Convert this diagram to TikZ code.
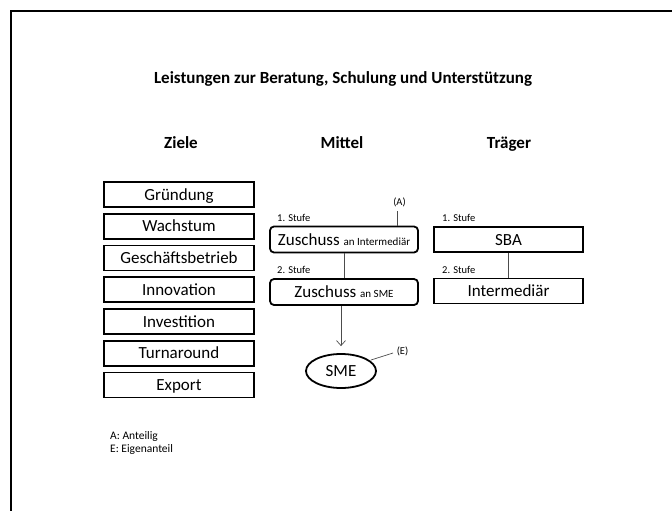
\documentclass[tikz,border=0pt]{standalone}
\usepackage{fontspec}
\setmainfont{Carlito}
\usetikzlibrary{shapes.geometric,arrows.meta}

\tikzset{
  frameline/.style={line width=2pt},
  boxtext/.style={inner sep=0pt, text height=14pt, text depth=3pt,
    font=\fontsize{17}{20}\selectfont},
  goalbox/.style={boxtext, draw, line width=1.8pt, minimum width=150pt, minimum height=25pt},
  meanbox/.style={boxtext, draw, line width=1.8pt, rounded corners=4pt,
    minimum width=148pt, minimum height=26pt},
  carrierbox/.style={boxtext, draw, line width=1.8pt, minimum width=149pt, minimum height=25pt},
  heading/.style={anchor=base, inner sep=0pt, font=\bfseries\fontsize{17}{20}\selectfont},
  stage/.style={anchor=base west, inner sep=0pt, font=\fontsize{10.5}{12}\selectfont},
  mark label/.style={inner sep=0pt, font=\fontsize{10.5}{12}\selectfont},
  link/.style={line width=0.7pt, draw=black!70},
  small/.style={anchor=base west, inner sep=0pt, font=\fontsize{11.5}{13}\selectfont}
}

\begin{document}
\begin{tikzpicture}[x=1pt, y=-1pt]
  \useasboundingbox (0,0) rectangle (672,511);
  \begin{scope}
    \clip (0,0) rectangle (672,511);
    \draw[frameline] (11,11) rectangle (700,540);
  \end{scope}

  % title and column headings
  \node[heading] (title) at (343,83) {Leistungen zur Beratung, Schulung und Unterstützung};
  \node[heading] (hziele) at (181,148) {Ziele};
  \node[heading] (hmittel) at (342,148) {Mittel};
  \node[heading] (htraeger) at (509,148) {Träger};

  % goals
  \foreach \name/\txt [count=\i from 0] in {g1/Gründung, g2/Wachstum, g3/Geschäftsbetrieb,
      g4/Innovation, g5/Investition, g6/Turnaround, g7/Export} {
    \node[goalbox] (\name) at (179,194.5+31.75*\i) {\txt};
  }

  % means
  \node[stage] (ms1) at (277,221) {1. Stufe};
  \node[meanbox] (zint) at (344,239.5) {Zuschuss {\fontsize{11}{12}\selectfont an Intermediär}};
  \node[stage] (ms2) at (277,273.5) {2. Stufe};
  \node[meanbox] (zsme) at (344,292) {Zuschuss {\fontsize{11}{12}\selectfont an SME}};
  \node[boxtext, draw, ellipse, line width=1.8pt, minimum width=70pt, minimum height=34pt]
    (sme) at (341,371) {SME};

  \node[mark label] (la) at (399.5,202.5) {(A)};
  \node[mark label] (le) at (402.5,351) {(E)};
  \coordinate (atop) at (397.5,211);
  \coordinate (etop) at (393,353);
  \coordinate (eend) at (371,360);

  \draw[link] (zint) -- (zsme);
  \draw[link] (atop) -- (atop |- zint.north);
  \draw[link, -{Straight Barb[length=5pt,width=9pt]}, shorten >=7pt]
    (zsme.south -| sme.north) -- (sme.north);
  \draw[link] (etop) -- (eend);

  % carriers
  \node[stage] (ts1) at (442,221) {1. Stufe};
  \node[carrierbox] (sba) at (508.5,239.5) {SBA};
  \node[stage] (ts2) at (442,273.5) {2. Stufe};
  \node[carrierbox] (inter) at (508.5,291) {Intermediär};
  \draw[link] (sba) -- (inter);

  % legend
  \node[small] (lega) at (110,439.5) {A: Anteilig};
  \node[small] (lege) at (110,452) {E: Eigenanteil};
\end{tikzpicture}
\end{document}
